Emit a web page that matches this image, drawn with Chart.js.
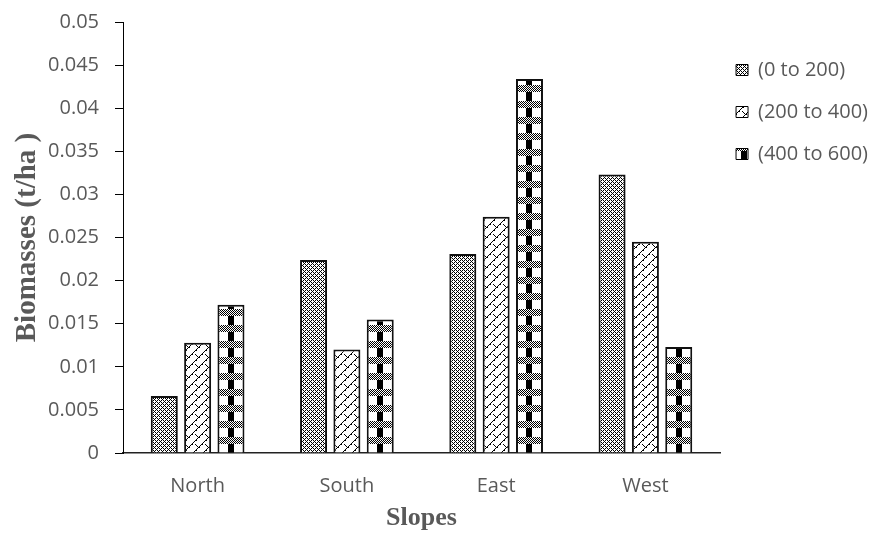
<!DOCTYPE html>
<html><head><meta charset="utf-8">
<script src="https://cdn.jsdelivr.net/npm/chart.js@4"></script>
<style>html,body{margin:0;padding:0;background:#fff}#wrap{width:874px;height:533px}</style>
</head><body><div id="wrap"><canvas id="c" width="874" height="533"></canvas></div>
<script>
const categories = ['North', 'South', 'East', 'West'];
const seriesNames = ['(0 to 200)', '(200 to 400)', '(400 to 600)'];
const elev0to200 = [0.0066, 0.0224, 0.0231, 0.0323];
const elev200to400 = [0.0128, 0.0120, 0.0274, 0.0245];
const elev400to600 = [0.0172, 0.0155, 0.0434, 0.0123];
const yTickLabels = ['0', '0.005', '0.01', '0.015', '0.02', '0.025', '0.03', '0.035', '0.04', '0.045', '0.05'];
const yTitle = 'Biomasses (t/ha )';
const xTitle = 'Slopes';

const CAT_PCT = 0.67, BAR_PCT = 0.81;
const GRAY = '#595959';

function tileFromFn(w, h, fn) {
  const c = document.createElement('canvas'); c.width = w; c.height = h;
  const g = c.getContext('2d');
  g.fillStyle = '#fff'; g.fillRect(0, 0, w, h);
  g.fillStyle = '#000';
  for (let y = 0; y < h; y++) for (let x = 0; x < w; x++) if (fn(x, y)) g.fillRect(x, y, 1, 1);
  return c;
}
// checker with a few lighter cells
function checker(x, y) {
  if ((x + y) % 2 !== 0) return false;
  return !((x === 0 && y === 0) || (x === 2 && y === 2));
}
// shingle-like: long "/" diagonal with a short "\" barb
function shingle(x, y) {
  if (x + y === 9 || x + y === 10) return (x + y === 9) || (x % 3 === 0);
  if (x - y === 1 && x >= 2 && x <= 5) return true;
  return false;
}
const tiles = [
  tileFromFn(4, 4, checker),
  tileFromFn(10, 10, shingle),
  tileFromFn(16, 16, (x, y) => y < 7 ? (x + y) % 2 === 0 : (x >= 5 && x <= 10))
];

function patternFor(c) {
  const chart = c.chart;
  const i = c.datasetIndex;
  const tile = tiles[i];
  const pat = chart.ctx.createPattern(tile, 'repeat');
  if (c.type === 'data') {
    const xs = chart.scales.x, ys = chart.scales.y;
    if (xs && ys && xs.width > 0) {
      const n = chart.data.datasets.length;
      const catW = xs.width / chart.data.labels.length;
      const thick = catW * CAT_PCT, size = thick / n;
      const center = xs.getPixelForValue(c.dataIndex) - thick / 2 + size * i + size / 2;
      const ox = Math.round(center - tile.width / 2);
      const oy = Math.round(ys.getPixelForValue(0));
      pat.setTransform(new DOMMatrix([1, 0, 0, 1, ox, oy]));
    }
  }
  return pat;
}

const seriesData = [elev0to200, elev200to400, elev400to600];
const datasets = seriesData.map((d, i) => ({
  label: seriesNames[i],
  data: d,
  backgroundColor: patternFor,
  borderColor: '#111',
  borderWidth: 2,
  categoryPercentage: CAT_PCT,
  barPercentage: BAR_PCT
}));

new Chart(document.getElementById('c'), {
  type: 'bar',
  data: { labels: categories, datasets },
  options: {
    responsive: false,
    animation: false,
    events: [],
    layout: { padding: { top: 22, left: 0, right: -4, bottom: 0 } },
    plugins: {
      tooltip: { enabled: false },
      legend: {
        position: 'right',
        align: 'start',
        title: { display: true, text: '', font: { size: 10, lineHeight: 1.2 }, padding: { top: 10, bottom: 0 } },
        labels: {
          boxWidth: 12, boxHeight: 11, padding: 16,
          color: GRAY,
          font: { family: 'Open Sans', size: 20, lineHeight: 1.3 },
          generateLabels: (chart) => chart.data.datasets.map((ds, i) => ({
            text: [ds.label],
            fillStyle: chart.ctx.createPattern(tiles[i], 'repeat'),
            strokeStyle: '#000',
            lineWidth: 1,
            hidden: false,
            datasetIndex: i,
            fontColor: GRAY
          }))
        }
      }
    },
    scales: {
      x: {
        afterFit: (s) => { s.height = 80; },
        grid: { display: false },
        border: { display: true, color: '#222', width: 1.5 },
        ticks: { color: GRAY, font: { family: 'Open Sans', size: 20 }, padding: 13 },
        title: { display: true, text: xTitle, color: GRAY, font: { family: 'Liberation Serif', size: 26, weight: 'bold', lineHeight: 1 }, padding: { top: 0, bottom: 2 } }
      },
      y: {
        min: 0, max: 0.05,
        afterFit: (s) => { s.width = 123; s.paddingTop = 0; },
        grid: { display: true, drawOnChartArea: false, drawTicks: true, tickLength: 8, color: '#000' },
        border: { display: true, color: '#000', width: 1 },
        ticks: {
          stepSize: 0.005, color: GRAY, padding: 16,
          font: { family: 'Open Sans', size: 20 },
          callback: (v, idx) => yTickLabels[idx]
        },
        title: { display: true, text: yTitle, color: GRAY, font: { family: 'Liberation Serif', size: 29, weight: 'bold', lineHeight: 1.2 }, padding: { top: 10, bottom: 0 } }
      }
    }
  }
});
</script></body></html>
